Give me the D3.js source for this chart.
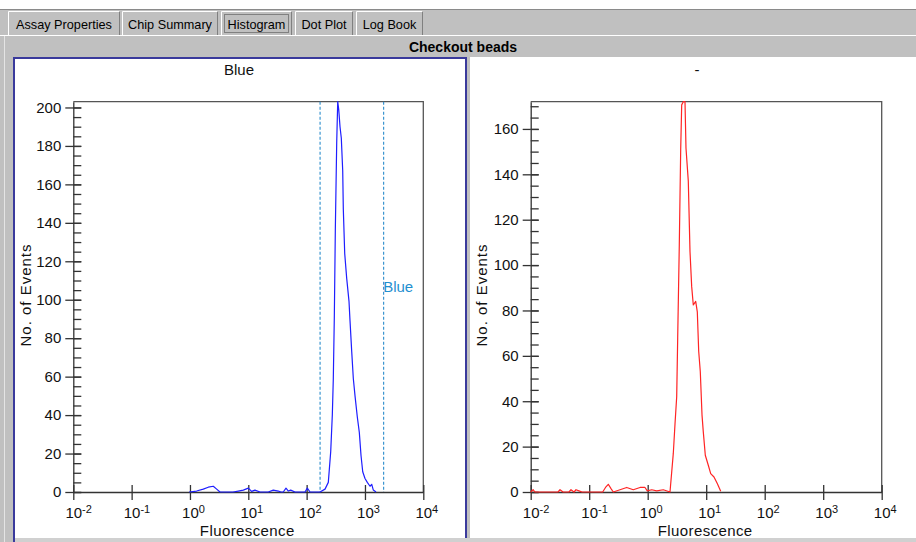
<!DOCTYPE html>
<html>
<head>
<meta charset="utf-8">
<script src="https://cdn.jsdelivr.net/npm/d3@7"></script>
<style>
  html, body { margin: 0; padding: 0; background: #ffffff; }
  svg { display: block; }
  text { font-family: "Liberation Sans", Arial, sans-serif; }
</style>
</head>
<body>
<svg id="chart" width="916" height="542"></svg>
<script>
// ---------------- data ----------------
const tabNames = ["Assay Properties", "Chip Summary", "Histogram", "Dot Plot", "Log Book"];
const selectedTab = "Histogram";
const pageTitle = "Checkout beads";

const panelTitles = ["Blue", "-"];
const xAxisTitle = "Fluorescence";
const yAxisTitle = "No. of Events";

const xTickExponents = [-2, -1, 0, 1, 2, 3, 4];
const leftYTicks = [0, 20, 40, 60, 80, 100, 120, 140, 160, 180, 200];
const rightYTicks = [0, 20, 40, 60, 80, 100, 120, 140, 160];
const minorStep = 5;

// Blue histogram (left panel): fluorescence value and number of events
const blueFluor = [0.97, 1.30, 1.69, 2.06, 2.51, 2.87, 3.27, 5.47, 6.74, 8.21, 10.0, 11.4, 13.0, 15.9,
  22.0, 26.8, 32.7, 36.4, 39.8, 44.3, 48.5, 53.3, 63.2, 93.8, 102.7, 114.3, 169.6, 206.6, 235.3,
  258.7, 275.6, 286.7, 298.3, 310.3, 327.9, 341.1, 354.8, 373.5, 393.1, 415.5, 425.5, 449.7, 486.7,
  533.0, 554.4, 592.8, 631.3, 675.2, 739.3, 800.0, 855.6, 915.2, 1002, 1097, 1221, 1306, 1391, 1547];
const blueCount = [0, 0.5, 1.5, 2.5, 3, 1.5, 0, 0, 0.5, 1, 2, 0.3, 1, 0,
  0, 1, 0.5, 0, 0, 2, 0.5, 1, 0, 0, 2, 0, 0, 1.5, 5,
  21, 40, 59, 91, 136, 182, 203, 199, 190, 184, 167, 147, 124, 111,
  99, 89, 73, 59, 50, 39, 31, 19, 10.5, 7, 5, 3, 4, 1, 0];
const blueGates = [170, 2090];
const gateName = "Blue";

// Red histogram (right panel)
const redFluor = [0.0100, 0.0110, 0.0118, 0.0293, 0.0317, 0.0357, 0.0451, 0.0488, 0.0550, 0.0595, 0.0669,
  0.0753, 0.170, 0.190, 0.212, 0.236, 0.258, 0.336, 0.4375, 0.567, 0.739, 0.899, 0.984, 1.171, 1.425,
  1.848, 2.405, 2.573, 2.739, 2.929, 3.131, 3.257, 3.469, 3.665, 3.812, 4.059, 4.341, 4.515, 4.943,
  5.285, 5.650, 6.018, 6.615, 7.046, 7.444, 7.927, 8.477, 8.920, 9.652, 10.86, 11.94, 13.59, 15.47, 17.70];
const redCount = [0, 1, 0, 0, 1, 0, 0, 1, 0, 1, 0.5,
  0, 0, 2, 3.4, 1.5, 0, 1, 2, 1, 2, 2, 0.5, 1, 0.5,
  1, 0, 8.8, 17, 30, 42, 68, 109, 151, 170.6, 172, 172, 151.5, 137,
  106, 90.5, 82.4, 84, 79.4, 62, 53, 34, 26.5, 16.2, 11.8, 8.1, 6.6, 3.7, 0.3];

// ---------------- drawing ----------------
const svg = d3.select("#chart");
const W = 916, H = 542;
const gray = "#c0c0c0";

svg.append("rect").attr("width", W).attr("height", H).attr("fill", "#ffffff");
svg.append("rect").attr("x", 0).attr("y", 9).attr("width", W).attr("height", H - 9).attr("fill", gray);
svg.append("line").attr("x1", 0).attr("x2", W).attr("y1", 9.5).attr("y2", 9.5).attr("stroke", "#8a8a8a");

// tabs
const tabX = [[8, 120], [122, 218], [221, 292], [295, 353], [356, 423]];
const tabG = svg.append("g");
tabNames.forEach((name, i) => {
  const [x0, x1] = tabX[i];
  const g = tabG.append("g");
  g.append("rect").attr("x", x0).attr("y", 11).attr("width", x1 - x0).attr("height", 24).attr("fill", gray);
  g.append("path").attr("d", `M${x0 + 0.5},35 V11.5 H${x1 - 1}`).attr("fill", "none").attr("stroke", "#ffffff");
  g.append("path").attr("d", `M${x1 - 0.5},12 V35`).attr("fill", "none").attr("stroke", "#808080");
  const t = g.append("text").attr("x", (x0 + x1) / 2).attr("y", 29).attr("text-anchor", "middle")
    .attr("font-size", 12.7).attr("fill", "#000").text(name);
  if (name === selectedTab) {
    g.append("rect").attr("x", x0 + 3.5).attr("y", 14.5).attr("width", x1 - x0 - 7).attr("height", 18)
      .attr("fill", "none").attr("stroke", "#404040").attr("stroke-dasharray", "1,1");
  }
});
svg.append("line").attr("x1", 0).attr("x2", W).attr("y1", 35.5).attr("y2", 35.5).attr("stroke", "#ffffff");
svg.append("line").attr("x1", 4.5).attr("x2", 4.5).attr("y1", 36).attr("y2", H).attr("stroke", "#e4e4e4");

svg.append("text").attr("x", 463).attr("y", 52).attr("text-anchor", "middle")
  .attr("font-size", 14).attr("font-weight", "bold").attr("fill", "#000").text(pageTitle);

// panels
svg.append("rect").attr("x", 470).attr("y", 57).attr("width", W - 470).attr("height", 490).attr("fill", "#ffffff");
svg.append("rect").attr("x", 14).attr("y", 58).attr("width", 452).attr("height", 490)
  .attr("fill", "#ffffff").attr("stroke", "#3a3a9c").attr("stroke-width", 2);
svg.append("rect").attr("x", 15).attr("y", 538).attr("width", W - 15).attr("height", 4).attr("fill", "#d0d0d0");

function drawPanel(cfg) {
  const data = cfg.fluor.map((f, i) => ({ f: f, n: cfg.count[i] }));
  const ymax = d3.max(cfg.count);
  const x = d3.scaleLog().domain([1e-2, 1e4]).range([cfg.x0, cfg.x1]);
  const y = d3.scaleLinear().domain([0, ymax]).range([492, 101.7]);
  const g = svg.append("g");
  const axisColor = "#333333";

  // frame (top and right)
  g.append("path").attr("d", `M${cfg.x0},${y(ymax)} H${cfg.x1} V${y(0)}`)
    .attr("fill", "none").attr("stroke", "#555555").attr("stroke-width", 1.3);

  // gates
  if (cfg.gates) {
    cfg.gates.forEach(v => {
      g.append("line").attr("x1", x(v)).attr("x2", x(v)).attr("y1", y(ymax)).attr("y2", y(0))
        .attr("stroke", "#2a8ccc").attr("stroke-width", 1.1).attr("stroke-dasharray", "3,2");
    });
    g.append("text").attr("x", x(cfg.gates[1]) - 0.5).attr("y", y(0) + (y(ymax) - y(0)) * 0.513)
      .attr("font-size", 15).attr("fill", "#1f8fd0").text(cfg.gateName);
  }

  // y axis: minor ticks (inside)
  const minorTicks = d3.range(0, ymax + 0.001, minorStep);
  g.append("g").attr("transform", `translate(${cfg.x0},0)`)
    .call(d3.axisRight(y).tickValues(minorTicks).tickSize(8).tickSizeOuter(0).tickFormat(""))
    .call(s => s.select(".domain").remove())
    .call(s => s.selectAll("line").attr("stroke", axisColor).attr("stroke-width", 1.3));
  // y axis: major ticks crossing
  g.append("g").attr("transform", `translate(${cfg.x0},0)`)
    .call(d3.axisRight(y).tickValues(cfg.yTicks).tickSize(8).tickSizeOuter(0).tickFormat(""))
    .call(s => s.select(".domain").remove())
    .call(s => s.selectAll("line").attr("stroke", axisColor).attr("stroke-width", 1.3));
  g.append("g").attr("transform", `translate(${cfg.x0},0)`)
    .call(d3.axisLeft(y).tickValues(cfg.yTicks).tickSize(8).tickSizeOuter(0).tickPadding(4))
    .call(s => s.select(".domain").attr("stroke", axisColor).attr("stroke-width", 1.3))
    .call(s => s.selectAll("line").attr("stroke", axisColor).attr("stroke-width", 1.3))
    .call(s => s.selectAll("text").attr("font-size", 15).attr("font-family", "Liberation Sans, Arial, sans-serif").attr("fill", "#111"));

  // x axis
  const xt = xTickExponents.map(e => Math.pow(10, e));
  g.append("g").attr("transform", `translate(0,${y(0)})`)
    .call(d3.axisTop(x).tickValues(xt).tickSize(7).tickSizeOuter(0).tickFormat(""))
    .call(s => s.select(".domain").remove())
    .call(s => s.selectAll("line").attr("stroke", axisColor).attr("stroke-width", 1.3));
  const xa = g.append("g").attr("transform", `translate(0,${y(0)})`)
    .call(d3.axisBottom(x).tickValues(xt).tickSize(8).tickSizeOuter(0).tickFormat(""))
    .call(s => s.select(".domain").attr("stroke", axisColor).attr("stroke-width", 1.3))
    .call(s => s.selectAll("line").attr("stroke", axisColor).attr("stroke-width", 1.3));
  xa.selectAll(".tick").each(function (d, i) {
    const t = d3.select(this).append("text").attr("x", -8.4).attr("y", 26).attr("text-anchor", "start")
      .attr("font-size", 15).attr("fill", "#111");
    t.append("tspan").text("10");
    t.append("tspan").attr("dy", -5).attr("font-size", 11).text(String(xTickExponents[i]));
  });

  // histogram line
  g.append("path").datum(data)
    .attr("d", d3.line().x(d => x(d.f)).y(d => y(d.n)))
    .attr("fill", "none").attr("stroke", cfg.color).attr("stroke-width", 1.2).attr("stroke-linejoin", "round");

  // titles
  g.append("text").attr("x", cfg.titleX).attr("y", 75).attr("text-anchor", "middle")
    .attr("font-size", 15).attr("fill", "#111").text(cfg.title);
  g.append("text").attr("x", (cfg.x0 + cfg.x1) / 2 - 1).attr("y", 536).attr("text-anchor", "middle")
    .attr("font-size", 15).attr("letter-spacing", 0.4).attr("fill", "#111").text(xAxisTitle);
  g.append("text").attr("transform", `translate(${cfg.ylabX},295) rotate(-90)`).attr("text-anchor", "middle")
    .attr("font-size", 15).attr("letter-spacing", 1).attr("fill", "#111").text(yAxisTitle);
}

drawPanel({ x0: 73.3, x1: 423.3, fluor: blueFluor, count: blueCount, yTicks: leftYTicks, color: "#1e1eff",
  gates: blueGates, gateName: gateName, title: panelTitles[0], titleX: 239, ylabX: 30.5 });
drawPanel({ x0: 530.7, x1: 881.7, fluor: redFluor, count: redCount, yTicks: rightYTicks, color: "#ff2424",
  title: panelTitles[1], titleX: 697, ylabX: 486.5 });
</script>
</body>
</html>
